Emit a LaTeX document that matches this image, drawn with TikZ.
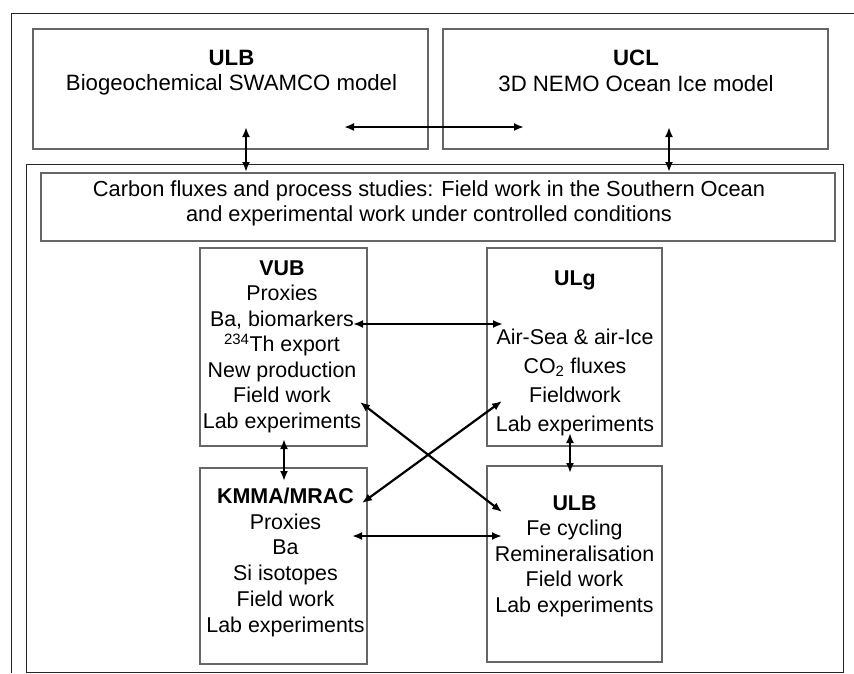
\documentclass[tikz,border=0pt]{standalone}
\usepackage{fontspec}
\setmainfont{Liberation Sans}
\usetikzlibrary{arrows.meta}
\begin{document}
\begin{tikzpicture}[x=1pt,y=-1pt,
  box/.style={draw=black!60, line width=1.3pt, inner sep=0pt, rectangle},
  bigframe/.style={draw=black!85, line width=1pt, inner sep=0pt, rectangle},
  outerline/.style={draw=black!85, line width=1pt},
  txt/.style={align=center, inner sep=0pt, anchor=north, font=\fontsize{21.4}{25.5}\selectfont},
  link/.style={line width=2.2pt, {Latex[length=10pt,width=8pt]}-{Latex[length=10pt,width=8pt]}}]
\useasboundingbox (0,0) rectangle (854,673);
% outer frame (open to the right and bottom)
\coordinate (ofbl) at (11,673);
\coordinate (oftl) at (11,13);
\coordinate (oftr) at (854,13);
\draw[outerline] (ofbl) -- (oftl) -- (oftr);
% boxes
\node[box, minimum width=395pt, minimum height=120pt] (ulbm) at (230.5,89) {};
\node[box, minimum width=385pt, minimum height=120pt] (uclm) at (635.5,89) {};
\node[bigframe, minimum width=817pt, minimum height=508pt] (big) at (434.5,418) {};
\node[box, minimum width=794pt, minimum height=68pt] (carb) at (438,207) {};
\node[box, minimum width=167pt, minimum height=198pt] (vub) at (283.5,347) {};
\node[box, minimum width=175pt, minimum height=198pt] (ulg) at (574.5,347) {};
\node[box, minimum width=167pt, minimum height=196pt] (kmma) at (283.5,566) {};
\node[box, minimum width=175pt, minimum height=196pt] (ulbf) at (574.5,564) {};
% texts
\node[txt, font=\fontsize{22.2}{25.5}\selectfont] (ulbmt) at (231.5,50) {\textbf{ULB}\\Biogeochemical SWAMCO model};
\node[txt, font=\fontsize{22.2}{25.5}\selectfont] (uclmt) at (636,50) {\textbf{UCL}\\3D NEMO Ocean Ice model};
\node[txt, font=\fontsize{21.8}{25}\selectfont] (carbt) at (429,180) {Carbon fluxes and process studies: Field work in the Southern Ocean\\and experimental work under controlled conditions};
\node[txt] (vubt) at (282,260.5) {\textbf{VUB}\\Proxies\\Ba, biomarkers\\\textsuperscript{234}Th export\\New production\\Field work\\Lab experiments};
\node[txt, font=\fontsize{21.4}{29.2}\selectfont] (ulgt) at (575,271) {\textbf{ULg}\\[29.2pt]Air-Sea \& air-Ice\\CO\textsubscript{2} fluxes\\Fieldwork\\Lab experiments};
\node[txt, font=\fontsize{21.4}{25.8}\selectfont] (kmmat) at (285.5,487.5) {\textbf{KMMA/MRAC}\\Proxies\\Ba\\Si isotopes\\Field work\\Lab experiments};
\node[txt] (ulbft) at (574.5,495.5) {\textbf{ULB}\\Fe cycling\\Remineralisation\\Field work\\Lab experiments};
% arrow end points
\coordinate (a1s) at (344,127); \coordinate (a1e) at (524,127);
\coordinate (a2s) at (246,127); \coordinate (a2e) at (246,172);
\coordinate (a3s) at (669,127); \coordinate (a3e) at (669,172);
\coordinate (a4s) at (353,324); \coordinate (a4e) at (503,324);
\coordinate (a5s) at (284,439); \coordinate (a5e) at (284,481);
\coordinate (a6s) at (570,433); \coordinate (a6e) at (570,473);
\coordinate (a7s) at (352,536); \coordinate (a7e) at (502,536);
\coordinate (a8s) at (360,402); \coordinate (a8e) at (502,512);
\coordinate (a9s) at (362,503); \coordinate (a9e) at (502,401);
\draw[link] (a1s) -- (a1e);
\draw[link] (a2s) -- (a2e);
\draw[link] (a3s) -- (a3e);
\draw[link] (a4s) -- (a4e);
\draw[link] (a5s) -- (a5e);
\draw[link] (a6s) -- (a6e);
\draw[link] (a7s) -- (a7e);
\draw[link] (a8s) -- (a8e);
\draw[link] (a9s) -- (a9e);
\end{tikzpicture}
\end{document}
